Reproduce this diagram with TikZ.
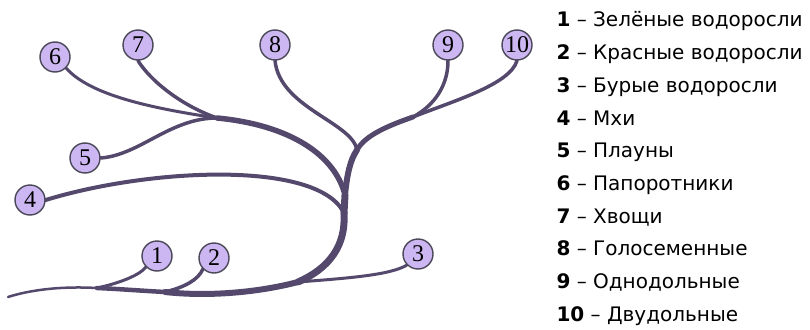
\documentclass[tikz,border=0pt]{standalone}
\usepackage{fontspec}
\newfontfamily\legendfont{DejaVu Sans}
\newfontfamily\digitfont{Liberation Serif}
\usetikzlibrary{backgrounds}
\definecolor{branch}{HTML}{54496C}
\definecolor{leaf}{HTML}{CDB7F2}
\definecolor{rim}{HTML}{4A4858}

\begin{document}
\begin{tikzpicture}[x=1pt,y=-1pt,
  taxon/.style={circle,draw=rim,fill=leaf,line width=1.4pt,minimum size=30pt,inner sep=0pt,font=\digitfont\fontsize{24}{24}\selectfont},
  branchline/.style={draw=branch,line cap=round,line join=round},
  entry/.style={anchor=base west,font=\legendfont\fontsize{20}{20}\selectfont}]
\useasboundingbox (0,0) rectangle (810,329);
%\draw[help lines, color=gray!30] (0,0) grid[step=10] (540,329);

% taxa
\node [taxon] (n1) at (157,256) {1};
\node [taxon] (n2) at (214,258) {2};
\node [taxon] (n3) at (418,254) {3};
\node [taxon] (n4) at (30,200) {4};
\node [taxon] (n5) at (85,158) {5};
\node [taxon] (n6) at (55,57) {6};
\node [taxon] (n7) at (138,45) {7};
\node [taxon] (n8) at (275,45) {8};
\node [taxon] (n9) at (448,45) {9};
\node [taxon] (n10) at (517,45) {10};

% forks of the tree
\coordinate (base) at (8,297);
\coordinate (f1) at (97,288);
\coordinate (f2) at (165,292);
\coordinate (f3) at (298,282);
\coordinate (f4) at (344,213);
\coordinate (ft) at (345,195);
\coordinate (fl) at (217,118);
\coordinate (fr) at (357,150);
\coordinate (f9) at (413,117);

\begin{pgfonlayer}{background}
% trunk
\draw [branchline, line width=2.5pt] (base) .. controls (30,290) and (60,286) .. (f1);
\draw [branchline, line width=4.5pt] (f1) .. controls (120,289) and (145,291) .. (f2);
\draw [branchline, line width=6pt] (f2) .. controls (210,297) and (260,292) .. (f3);
\draw [branchline, line width=7pt] (f3) .. controls (330,268) and (346,245) .. (f4);
\draw [branchline, line width=7pt] (f4) -- (ft);
\draw [branchline, line width=6pt] (ft) .. controls (347,175) and (350,160) .. (fr);
\draw [branchline, line width=5pt] (fr) .. controls (365,135) and (390,125) .. (f9);
\draw [branchline, line width=5.5pt] (ft) .. controls (335,155) and (290,125) .. (fl);
% twigs
\draw [branchline, line width=3pt] (f1) .. controls (120,283) and (140,275) .. (n1.south west);
\draw [branchline, line width=3.5pt] (f2) .. controls (185,287) and (198,280) .. (n2.south west);
\draw [branchline, line width=3pt] (f3) .. controls (350,278) and (390,275) .. (n3.south west);
\draw [branchline, line width=4pt] (f4) .. controls (318,160) and (150,168) .. (n4.east);
\draw [branchline, line width=3.5pt] (fl) .. controls (170,118) and (140,155) .. (n5.east);
\draw [branchline, line width=3pt] (fl) .. controls (150,108) and (90,95) .. (n6.south east);
\draw [branchline, line width=3.5pt] (fl) .. controls (180,105) and (150,80) .. (n7.south);
\draw [branchline, line width=3.5pt] (fr) .. controls (352,122) and (280,108) .. (n8.south);
\draw [branchline, line width=3.5pt] (f9) .. controls (435,105) and (448,85) .. (n9.south);
\draw [branchline, line width=3.5pt] (f9) .. controls (450,102) and (510,85) .. (n10.south);
\end{pgfonlayer}

% legend
\node [entry] (l1) at (553,27) {\textbf{1} – Зелёные водоросли};
\node [entry] (l2) at (553,59.7) {\textbf{2} – Красные водоросли};
\node [entry] (l3) at (553,92.4) {\textbf{3} – Бурые водоросли};
\node [entry] (l4) at (553,125.1) {\textbf{4} – Мхи};
\node [entry] (l5) at (553,157.8) {\textbf{5} – Плауны};
\node [entry] (l6) at (553,190.5) {\textbf{6} – Папоротники};
\node [entry] (l7) at (553,223.2) {\textbf{7} – Хвощи};
\node [entry] (l8) at (553,255.9) {\textbf{8} – Голосеменные};
\node [entry] (l9) at (553,288.6) {\textbf{9} – Однодольные};
\node [entry] (l10) at (553,321.3) {\textbf{10} – Двудольные};
\end{tikzpicture}
\end{document}
